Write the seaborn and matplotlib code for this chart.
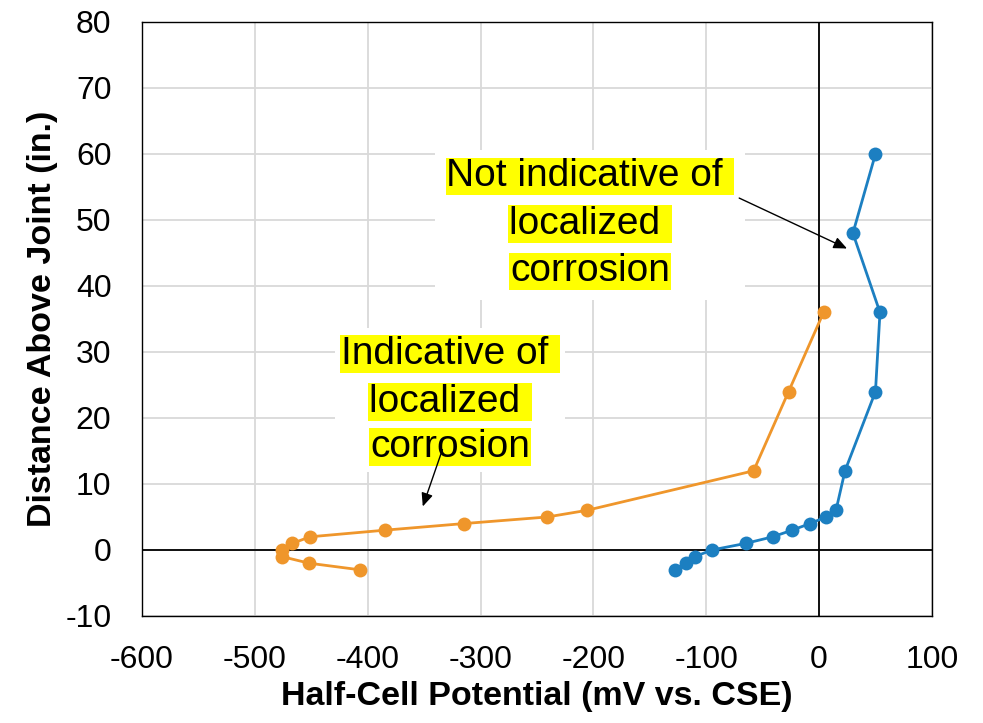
import numpy as np
import pandas as pd
import seaborn as sns
import matplotlib.pyplot as plt
from matplotlib.patches import Rectangle

# Data
distance = [60, 48, 36, 24, 12, 6, 5, 4, 3, 2, 1, 0, -1, -2, -3]
blue_potential = [50, 30, 54, 50, 23, 15, 6, -8, -24, -41, -65, -95, -110, -118, -128]

distance_orange = [36, 24, 12, 6, 5, 4, 3, 2, 1, 0, -1, -2, -3]
orange_potential = [4, -27, -58, -206, -241, -315, -385, -451, -467, -476, -476, -452, -407]

blue = "#1C7FC1"
orange = "#EF962B"

df_blue = pd.DataFrame({"potential": blue_potential, "distance": distance})
df_orange = pd.DataFrame({"potential": orange_potential, "distance": distance_orange})

sns.set_style("white", rc={"text.color": "black", "axes.labelcolor": "black",
                           "xtick.color": "black", "ytick.color": "black"})
plt.rcParams['font.family'] = ['Liberation Sans', 'DejaVu Sans']
plt.rcParams['axes.unicode_minus'] = False

fig, ax = plt.subplots(figsize=(9.83, 7.23), dpi=100)
fig.subplots_adjust(left=0.1445, right=0.948, top=0.9696, bottom=0.148)

# gridlines
ax.set_axisbelow(True)
ax.grid(True, color="#D9D9D9", linewidth=1.3)

# zero lines
ax.axhline(0, color="black", linewidth=1.3, zorder=1.5)
ax.axvline(0, color="black", linewidth=1.3, zorder=1.5)

# white text-box backgrounds hiding gridlines
ax.add_patch(Rectangle((-340, 37.9), 274, 22.7, fc="white", ec="none", zorder=1.2))
ax.add_patch(Rectangle((-429, 11.8), 204, 21.8, fc="white", ec="none", zorder=1.2))

sns.lineplot(data=df_orange, x="potential", y="distance", sort=False, estimator=None,
             color=orange, linewidth=2.0, marker="o", markersize=10, markeredgewidth=0,
             ax=ax, zorder=3)
sns.lineplot(data=df_blue, x="potential", y="distance", sort=False, estimator=None,
             color=blue, linewidth=2.0, marker="o", markersize=10, markeredgewidth=0,
             ax=ax, zorder=3)

ax.set_xlim(-600, 100)
ax.set_ylim(-10, 80)
ax.set_xticks(np.arange(-600, 101, 100))
ax.set_yticks(np.arange(-10, 81, 10))
ax.tick_params(axis="x", labelsize=23, length=0, pad=21)
ax.tick_params(axis="y", labelsize=23, length=0, pad=22)

for s in ax.spines.values():
    s.set_color("black")
    s.set_linewidth(1.0)

ax.set_xlabel("Half-Cell Potential (mV vs. CSE)", fontsize=24.5, fontweight="bold", labelpad=4)
ax.set_ylabel("Distance Above Joint (in.)", fontsize=24.5, fontweight="bold", labelpad=5)

# annotation text blocks
def label_block(x, ys, lines):
    for y, t in zip(ys, lines):
        ax.text(x, y, t, ha="center", va="center", fontsize=28, zorder=5,
                bbox=dict(boxstyle="square,pad=0.02", fc="yellow", ec="none"))

label_block(-203, [56.6, 49.4, 42.2], ["Not indicative of ", "localized ", "corrosion"])
label_block(-327, [29.7, 22.4, 15.6], ["Indicative of ", "localized ", "corrosion"])

ax.annotate("", xy=(27, 45.5), xytext=(-73, 53.5),
            arrowprops=dict(arrowstyle="-|>,head_length=0.8,head_width=0.35", color="black", lw=1.0),
            zorder=6)
ax.annotate("", xy=(-352, 6.2), xytext=(-333, 15.6),
            arrowprops=dict(arrowstyle="-|>,head_length=0.8,head_width=0.35", color="black", lw=1.0),
            zorder=6)

fig.savefig("out.png", dpi=100)
